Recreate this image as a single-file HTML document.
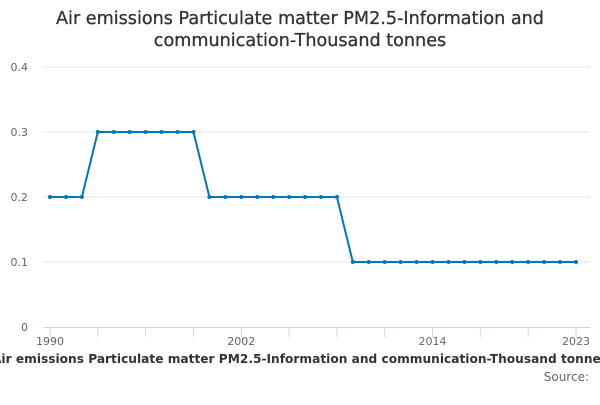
<!DOCTYPE html>
<html><head><meta charset="utf-8"><style>
body{margin:0;background:#fff}
svg text{font-family:"DejaVu Sans","Liberation Sans",sans-serif}
</style></head><body>
<svg id="chart" width="600" height="400">
<text x="300" y="24" text-anchor="middle" font-size="17.6" fill="#333" stroke="#333" stroke-width="0.3">Air emissions Particulate matter PM2.5-Information and</text>
<text x="300" y="46" text-anchor="middle" font-size="17.6" fill="#333" stroke="#333" stroke-width="0.3">communication-Thousand tonnes</text>
<g id="grid"></g><g id="xaxis"></g><g id="series"></g>
<text x="300" y="363" text-anchor="middle" font-size="12.2" font-weight="bold" fill="#333">Air emissions Particulate matter PM2.5-Information and communication-Thousand tonnes</text>
<text x="589" y="381" text-anchor="end" font-size="12" fill="#666">Source:</text>
</svg>
<script>
const years=[];for(let y=1990;y<=2023;y++)years.push(y);
const values=[0.2,0.2,0.2,0.3,0.3,0.3,0.3,0.3,0.3,0.3,0.2,0.2,0.2,0.2,0.2,0.2,0.2,0.2,0.2,0.1,0.1,0.1,0.1,0.1,0.1,0.1,0.1,0.1,0.1,0.1,0.1,0.1,0.1,0.1];
const yTicks=[0,0.1,0.2,0.3,0.4];
const xLabels=[1990,2002,2014,2023];
const NS="http://www.w3.org/2000/svg";
const xs=y=>50+(y-1990)*(526/33);
const ys=v=>327-v*650;
function mk(t,a,p){const e=document.createElementNS(NS,t);for(const k in a)e.setAttribute(k,a[k]);p.appendChild(e);return e;}
const grid=document.getElementById('grid');
yTicks.forEach(v=>{
 if(v>0){const l=mk('line',{x1:43,x2:590,y1:ys(v),y2:ys(v),stroke:'#e6e6e6'},grid);
 
 }
 const t=mk('text',{x:28,y:ys(v)+4,'text-anchor':'end','font-size':11,fill:'#666'},grid);t.textContent=v;
 
 
});
const xa=document.getElementById('xaxis');
const ax=mk('line',{x1:43,x2:590,y1:327.5,y2:327.5,stroke:'#ccd6eb'},xa);


for(let y=1990;y<=2023;y+=3){const l=mk('line',{x1:xs(y),x2:xs(y),y1:327,y2:337,stroke:'#ccd6eb'},xa);
 
 }
xLabels.forEach(y=>{const t=mk('text',{x:xs(y),y:345,'text-anchor':'middle','font-size':11,fill:'#666'},xa);t.textContent=y;
 
 });
const s=document.getElementById('series');
const p=mk('polyline',{points:years.map((y,i)=>xs(y)+','+ys(values[i])).join(' '),fill:'none',stroke:'#0077bb','stroke-width':2},s);


years.forEach((y,i)=>{const c=mk('circle',{cx:xs(y),cy:ys(values[i]),r:2,fill:'#0077bb'},s);
 
 });
</script>
</body></html>
